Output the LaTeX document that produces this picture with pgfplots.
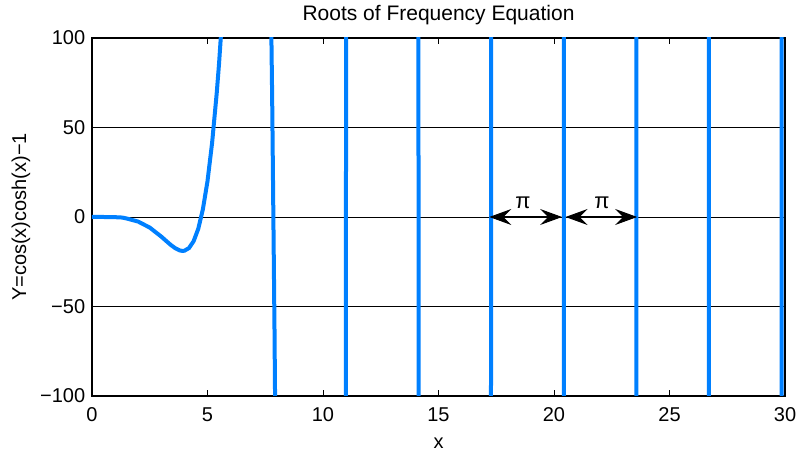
\documentclass[border=0pt]{standalone}
\usepackage{pgfplots}
\pgfplotsset{compat=1.18}
\usepackage{fontspec}
\setmainfont{Liberation Sans}
\usetikzlibrary{arrows.meta}
\definecolor{mblue}{RGB}{0,128,255}

\begin{document}
\fontsize{20bp}{23bp}\selectfont
\begin{tikzpicture}
\begin{axis}[
    scale only axis,
    width=693bp, height=358bp,
    xmin=0, xmax=30, ymin=-100, ymax=100,
    xtick={0,5,...,30},
    ytick={-100,-50,0,50,100},
    yticklabels={−100,−50,0,50,100},
    /pgf/number format/assume math mode=true,
    xticklabel style={yshift=-5bp},
    ymajorgrids,
    grid style={black, line width=0.7bp},
    axis line style={black, line width=1.3bp},
    tick style={black, line width=0.8bp},
    major tick length=6bp,
    tick align=inside,
    title={Roots of Frequency Equation},
    title style={at={(axis description cs:0.5,1.0335)}, anchor=base,
                 font=\fontsize{21bp}{24bp}\selectfont},
    xlabel={x},
    xlabel style={at={(axis description cs:0.5,-0.1453)}, anchor=base},
    ylabel={Y=cos(x)cosh(x)−1},
    ylabel style={at={(axis description cs:-0.0952,0.5)}, anchor=base, rotate=0},
]
\addplot[mblue, line width=4bp, line join=round, no markers] coordinates {
    (0,0) (0.5,0) (1.0,-0.1) (1.3,-0.3) (1.5,-0.83) (2.0,-2.57)
    (2.5,-5.91) (3.0,-10.97) (3.4,-15.5) (3.6,-17.4) (3.8,-18.7)
    (3.9,-18.9) (4.0,-18.85) (4.2,-17.35) (4.4,-13.5) (4.6,-6.6)
    (4.8,4.3) (5.0,20.0) (5.2,41.5) (5.4,69.3) (5.5,85.7) (5.6,104.9)
    (7.7,168) (7.8,65.8) (7.9,-62) (8.0,-217)
    (10.99,-200) (11.00,200)
    (14.13,200) (14.14,-200)
    (17.27,-200) (17.28,200)
    (20.42,200) (20.43,-200)
    (23.56,-200) (23.57,200)
    (26.70,200) (26.71,-200)
    (29.85,-200) (29.86,200)
    (30,200)
};
\draw[black, line width=1bp,
      {Stealth[length=22bp,width=16bp,inset=8bp]}-{Stealth[length=22bp,width=16bp,inset=8bp]}]
    (axis cs:17.2,0) -- (axis cs:20.35,0);
\draw[black, line width=1bp,
      {Stealth[length=22bp,width=16bp,inset=8bp]}-{Stealth[length=22bp,width=16bp,inset=8bp]}]
    (axis cs:20.5,0) -- (axis cs:23.6,0);
\node[font=\fontsize{22bp}{24bp}\selectfont] at (axis cs:18.66,7.8) {π};
\node[font=\fontsize{22bp}{24bp}\selectfont] at (axis cs:22.08,7.8) {π};
\end{axis}
\pgfresetboundingbox
\path[use as bounding box] ([shift={(-92bp,-56bp)}]current axis.south west)
    rectangle ([shift={(18bp,38bp)}]current axis.north east);
\end{tikzpicture}
\end{document}
